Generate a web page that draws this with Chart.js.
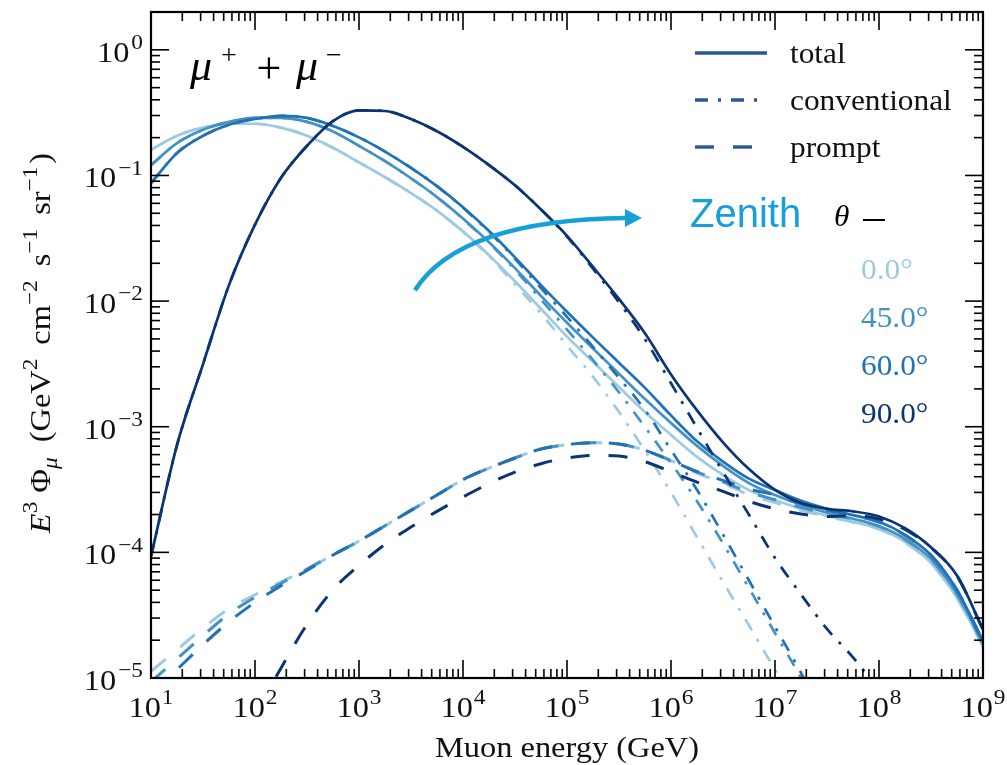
<!DOCTYPE html>
<html>
<head>
<meta charset="utf-8">
<title>Atmospheric muon flux</title>
<script src="https://cdn.jsdelivr.net/npm/chart.js@4.4.1/dist/chart.umd.min.js"></script>
<style>
html, body { margin: 0; padding: 0; background: #ffffff; }
canvas { display: block; }
</style>
</head>
<body>
<canvas id="flux" width="1007" height="765"></canvas>
<script>
// Muon energy grid (GeV), quarter-decade steps
const energies = [1e1, 1.78e1, 3.16e1, 5.62e1, 1e2, 1.78e2, 3.16e2, 5.62e2, 1e3, 1.78e3, 3.16e3, 5.62e3,
  1e4, 1.78e4, 3.16e4, 5.62e4, 1e5, 1.78e5, 3.16e5, 5.62e5, 1e6, 1.78e6, 3.16e6, 5.62e6,
  1e7, 1.78e7, 3.16e7, 5.62e7, 1e8, 1.78e8, 3.16e8, 5.62e8, 1e9];

// E^3 * flux (GeV^2 cm^-2 s^-1 sr^-1), zenith 0 deg
const total0 = [1.60e-1, 2.07e-1, 2.40e-1, 2.58e-1, 2.58e-1, 2.40e-1, 2.07e-1, 1.66e-1, 1.27e-1, 9.68e-2, 7.24e-2, 5.25e-2,
  3.59e-2, 2.32e-2, 1.44e-2, 8.69e-3, 5.21e-3, 3.29e-3, 2.07e-3, 1.31e-3, 8.61e-4, 5.76e-4, 4.13e-4, 3.13e-4,
  2.61e-4, 2.22e-4, 1.96e-4, 1.75e-4, 1.54e-4, 1.21e-4, 8.23e-5, 4.35e-5, 1.80e-5];
const conv0 = [1.60e-1, 2.07e-1, 2.40e-1, 2.58e-1, 2.58e-1, 2.40e-1, 2.07e-1, 1.66e-1, 1.27e-1, 9.68e-2, 7.24e-2, 5.25e-2,
  3.55e-2, 2.28e-2, 1.36e-2, 7.98e-3, 4.43e-3, 2.50e-3, 1.31e-3, 6.43e-4, 3.00e-4, 1.32e-4, 5.83e-5, 2.62e-5,
  1.16e-5, 4.95e-6, 1.97e-6, null, null, null, null, null, null];
const prompt0 = [1.13e-5, 1.68e-5, 2.50e-5, 3.56e-5, 4.60e-5, 5.82e-5, 7.36e-5, 9.53e-5, 1.23e-4, 1.63e-4, 2.16e-4, 2.86e-4,
  3.79e-4, 4.68e-4, 5.64e-4, 6.65e-4, 7.21e-4, 7.47e-4, 7.29e-4, 6.49e-4, 5.38e-4, 4.28e-4, 3.57e-4, 2.87e-4,
  2.49e-4, 2.16e-4, 1.93e-4, 1.74e-4, 1.53e-4, 1.20e-4, 8.20e-5, 4.33e-5, 1.79e-5];

// zenith 45 deg
const total45 = [1.21e-1, 1.81e-1, 2.31e-1, 2.67e-1, 2.87e-1, 2.87e-1, 2.67e-1, 2.24e-1, 1.72e-1, 1.30e-1, 9.50e-2, 6.73e-2,
  4.55e-2, 2.94e-2, 1.83e-2, 1.10e-2, 6.72e-3, 4.19e-3, 2.64e-3, 1.66e-3, 1.07e-3, 7.04e-4, 4.88e-4, 3.56e-4,
  2.86e-4, 2.39e-4, 2.07e-4, 1.85e-4, 1.62e-4, 1.28e-4, 8.86e-5, 4.67e-5, 1.89e-5];
const conv45 = [1.21e-1, 1.81e-1, 2.31e-1, 2.67e-1, 2.87e-1, 2.87e-1, 2.67e-1, 2.24e-1, 1.72e-1, 1.30e-1, 9.50e-2, 6.73e-2,
  4.50e-2, 2.90e-2, 1.78e-2, 1.03e-2, 5.94e-3, 3.39e-3, 1.88e-3, 9.94e-4, 5.15e-4, 2.55e-4, 1.18e-4, 5.20e-5,
  2.28e-5, 1.00e-5, 3.91e-6, null, null, null, null, null, null];
const prompt45 = [9.32e-6, 1.42e-5, 2.17e-5, 3.24e-5, 4.39e-5, 5.68e-5, 7.36e-5, 9.53e-5, 1.23e-4, 1.63e-4, 2.16e-4, 2.86e-4,
  3.79e-4, 4.68e-4, 5.64e-4, 6.65e-4, 7.21e-4, 7.47e-4, 7.29e-4, 6.49e-4, 5.38e-4, 4.38e-4, 3.64e-4, 3.01e-4,
  2.62e-4, 2.28e-4, 2.02e-4, 1.84e-4, 1.61e-4, 1.27e-4, 8.80e-5, 4.65e-5, 1.88e-5];

// zenith 60 deg
const total60 = [8.68e-2, 1.51e-1, 2.07e-1, 2.53e-1, 2.82e-1, 2.98e-1, 2.87e-1, 2.48e-1, 2.01e-1, 1.55e-1, 1.15e-1, 8.22e-2,
  5.58e-2, 3.61e-2, 2.23e-2, 1.34e-2, 8.22e-3, 5.12e-3, 3.23e-3, 2.04e-3, 1.23e-3, 7.65e-4, 5.28e-4, 3.86e-4,
  3.13e-4, 2.57e-4, 2.22e-4, 1.98e-4, 1.75e-4, 1.38e-4, 9.53e-5, 5.03e-5, 1.97e-5];
const conv60 = [8.68e-2, 1.51e-1, 2.07e-1, 2.53e-1, 2.82e-1, 2.98e-1, 2.87e-1, 2.48e-1, 2.01e-1, 1.55e-1, 1.15e-1, 8.22e-2,
  5.53e-2, 3.56e-2, 2.17e-2, 1.27e-2, 7.50e-3, 4.32e-3, 2.45e-3, 1.36e-3, 6.53e-4, 3.14e-4, 1.39e-4, 5.97e-5,
  2.56e-5, 1.10e-5, 4.41e-6, null, null, null, null, null, null];
const prompt60 = [7.55e-6, 1.17e-5, 1.84e-5, 2.80e-5, 4.00e-5, 5.42e-5, 7.18e-5, 9.53e-5, 1.23e-4, 1.63e-4, 2.16e-4, 2.86e-4,
  3.79e-4, 4.68e-4, 5.64e-4, 6.65e-4, 7.21e-4, 7.47e-4, 7.29e-4, 6.49e-4, 5.38e-4, 4.39e-4, 3.74e-4, 3.19e-4,
  2.86e-4, 2.45e-4, 2.17e-4, 1.97e-4, 1.74e-4, 1.37e-4, 9.50e-5, 5.01e-5, 1.96e-5];

// zenith 90 deg (horizontal)
const total90 = [9.27e-5, 7.17e-4, 3.14e-3, 1.34e-2, 4.06e-2, 9.59e-2, 1.72e-1, 2.71e-1, 3.30e-1, 3.26e-1, 2.81e-1, 2.25e-1,
  1.69e-1, 1.21e-1, 8.35e-2, 5.36e-2, 3.31e-2, 1.87e-2, 1.04e-2, 5.54e-3, 2.61e-3, 1.35e-3, 7.52e-4, 4.60e-4,
  3.15e-4, 2.47e-4, 2.22e-4, 2.12e-4, 1.93e-4, 1.56e-4, 1.10e-4, 6.54e-5, 2.44e-5];
const conv90 = [9.27e-5, 7.17e-4, 3.14e-3, 1.34e-2, 4.06e-2, 9.59e-2, 1.72e-1, 2.71e-1, 3.30e-1, 3.26e-1, 2.81e-1, 2.25e-1,
  1.69e-1, 1.21e-1, 8.35e-2, 5.36e-2, 3.26e-2, 1.81e-2, 9.78e-3, 4.97e-3, 2.22e-3, 9.76e-4, 4.37e-4, 1.99e-4,
  9.03e-5, 4.62e-5, 2.46e-5, 1.46e-5, 7.92e-6, 3.90e-6, null, null, null];
const prompt90 = [null, null, null, 1.53e-6, 4.98e-6, 1.20e-5, 2.67e-5, 5.04e-5, 7.88e-5, 1.16e-4, 1.59e-4, 2.12e-4,
  2.76e-4, 3.53e-4, 4.35e-4, 5.08e-4, 5.64e-4, 5.92e-4, 5.84e-4, 5.26e-4, 4.37e-4, 3.62e-4, 3.06e-4, 2.55e-4,
  2.22e-4, 2.02e-4, 1.93e-4, 1.96e-4, 1.84e-4, 1.52e-4, 1.09e-4, 6.50e-5, 2.43e-5];

const angleLabels = ['0.0\u00b0', '45.0\u00b0', '60.0\u00b0', '90.0\u00b0'];
const componentLabels = ['total', 'conventional', 'prompt'];
const xTickExponents = [1, 2, 3, 4, 5, 6, 7, 8, 9];
const yTickExponents = [-5, -4, -3, -2, -1, 0];
const minorSteps = [2, 3, 4, 5, 6, 7, 8, 9];

// styling
const angleColors = ['#9ecae1', '#4292c6', '#2171b5', '#0b3572'];
const componentDash = { total: [], conventional: [13, 10, 3, 10], prompt: [19, 19] };
const componentWidth = { total: 2.7, conventional: 2.7, prompt: 3.0 };
const SERIF = '"Liberation Serif", "Times New Roman", serif';
const SANS = '"Liberation Sans", Arial, sans-serif';
const STRETCH = 1.08;

const seriesByAngle = [
  { total: total0, conventional: conv0, prompt: prompt0 },
  { total: total45, conventional: conv45, prompt: prompt45 },
  { total: total60, conventional: conv60, prompt: prompt60 },
  { total: total90, conventional: conv90, prompt: prompt90 }
];

const datasets = [];
angleLabels.forEach((angle, i) => {
  componentLabels.forEach(kind => {
    datasets.push({
      label: angle + ' ' + kind,
      data: seriesByAngle[i][kind],
      borderColor: angleColors[i],
      borderWidth: componentWidth[kind],
      borderDash: componentDash[kind],
      fill: false,
      pointRadius: 0,
      spanGaps: false
    });
  });
});
// later entries are painted over earlier ones
datasets.forEach((d, i) => { d.order = datasets.length - i; });

// ---- text helpers (mathtext-like runs with super/subscripts) ----
function segFont(seg, size) {
  const s = size * (seg.sup || seg.sub ? 0.72 : 1) * (seg.scale || 1);
  return (seg.it ? 'italic ' : '') + s.toFixed(1) + 'px ' + SERIF;
}
function richWidth(ctx, segs, size) {
  let w = 0;
  segs.forEach(seg => { ctx.font = segFont(seg, size); w += ctx.measureText(seg.t).width * STRETCH + (seg.pad || 0); });
  return w;
}
function drawRich(ctx, segs, x, y, size, align) {
  const w = richWidth(ctx, segs, size);
  let cx = align === 'center' ? x - w / 2 : (align === 'right' ? x - w : x);
  segs.forEach(seg => {
    ctx.font = segFont(seg, size);
    const dy = seg.sup ? -0.42 * size : (seg.sub ? 0.22 * size : 0);
    const adv = ctx.measureText(seg.t).width * STRETCH;
    ctx.save();
    ctx.translate(cx, y + dy);
    ctx.scale(STRETCH, 1);
    ctx.textAlign = 'left';
    ctx.textBaseline = 'alphabetic';
    ctx.fillText(seg.t, 0, 0);
    ctx.restore();
    cx += adv + (seg.pad || 0);
  });
}
function expText(e) { return e < 0 ? '\u2212' + (-e) : String(e); }

// Frame, inward ticks, labels, legend and the zenith annotation
const decorations = {
  id: 'decorations',
  afterDraw(chart) {
    const ctx = chart.ctx;
    const a = chart.chartArea;
    const xs = chart.scales.x, ys = chart.scales.y;
    ctx.save();

    // zenith arrow, in data coordinates: start, control, head base, tip
    const arrowPath = [[3.45e3, 1.22e-2], [9.35e3, 4.42e-2], [3.69e5, 4.58e-2], [5.26e5, 4.58e-2]];
    const ap = arrowPath.map(p => [xs.getPixelForValue(p[0]), ys.getPixelForValue(p[1])]);
    ctx.strokeStyle = '#17a0d8';
    ctx.fillStyle = '#17a0d8';
    ctx.lineWidth = 4.5;
    ctx.setLineDash([]);
    ctx.beginPath();
    ctx.moveTo(ap[0][0], ap[0][1]);
    ctx.quadraticCurveTo(ap[1][0], ap[1][1], ap[2][0], ap[2][1]);
    ctx.stroke();
    ctx.beginPath();
    ctx.moveTo(ap[3][0], ap[3][1]);
    ctx.lineTo(ap[2][0] - 1, ap[2][1] - 9);
    ctx.lineTo(ap[2][0] - 1, ap[2][1] + 9);
    ctx.closePath();
    ctx.fill();

    // frame
    ctx.strokeStyle = '#000';
    ctx.lineWidth = 2.2;
    ctx.strokeRect(a.left, a.top, a.right - a.left, a.bottom - a.top);

    // ticks, pointing inwards on all four sides
    ctx.lineWidth = 1.6;
    const seg = (x1, y1, x2, y2) => { ctx.beginPath(); ctx.moveTo(x1, y1); ctx.lineTo(x2, y2); ctx.stroke(); };
    xTickExponents.forEach(e => {
      [1].concat(minorSteps).forEach(k => {
        const v = k * Math.pow(10, e);
        if (v > xs.max * 1.0001) return;
        const px = xs.getPixelForValue(v);
        const len = k === 1 ? 18 : 9;
        seg(px, a.bottom, px, a.bottom - len);
        seg(px, a.top, px, a.top + len);
      });
    });
    yTickExponents.forEach(e => {
      [1].concat(minorSteps).forEach(k => {
        const v = k * Math.pow(10, e);
        if (v > ys.max * 0.999) return;
        const py = ys.getPixelForValue(v);
        const len = k === 1 ? 18 : 9;
        seg(a.left, py, a.left + len, py);
        seg(a.right, py, a.right - len, py);
      });
    });

    // tick labels
    ctx.fillStyle = '#111';
    xTickExponents.forEach(e => {
      const px = xs.getPixelForValue(Math.pow(10, e));
      drawRich(ctx, [{ t: '10', pad: 1 }, { t: expText(e), sup: true }], px, a.bottom + 39, 30, 'center');
    });
    yTickExponents.forEach(e => {
      const py = ys.getPixelForValue(Math.pow(10, e));
      drawRich(ctx, [{ t: '10', pad: 2 }, { t: expText(e), sup: true }], a.left - 8, py + 12, 30, 'right');
    });

    // axis titles
    drawRich(ctx, [{ t: 'Muon energy (GeV)' }], (a.left + a.right) / 2, 757, 30, 'center');
    ctx.save();
    ctx.translate(50, 343);
    ctx.rotate(-Math.PI / 2);
    drawRich(ctx, [
      { t: 'E', it: true }, { t: '3', sup: true, pad: 9 }, { t: '\u03a6' }, { t: '\u03bc', it: true, sub: true, pad: 15 },
      { t: '(GeV' }, { t: '2', sup: true, pad: 14 }, { t: 'cm' }, { t: '\u22122', sup: true, pad: 14 },
      { t: 's' }, { t: '\u22121', sup: true, pad: 14 }, { t: 'sr' }, { t: '\u22121', sup: true, pad: 3 }, { t: ')' }
    ], 0, 0, 30, 'center');
    ctx.restore();

    // particle label
    ctx.fillStyle = '#000';
    ctx.textAlign = 'left';
    ctx.textBaseline = 'alphabetic';
    ctx.font = 'italic 44px ' + SERIF;
    ctx.fillText('\u03bc', 190, 80);
    ctx.fillText('\u03bc', 296, 80);
    ctx.font = '28px ' + SERIF;
    ctx.fillText('+', 221, 64);
    ctx.fillText('\u2212', 326, 64);
    ctx.font = '44px ' + SERIF;
    ctx.textAlign = 'center';
    ctx.fillText('+', 269, 83);

    // component legend
    const legendY = [53, 100, 147];
    componentLabels.forEach((kind, i) => {
      ctx.strokeStyle = '#2a5796';
      ctx.lineWidth = 3.4;
      ctx.setLineDash(componentDash[kind]);
      seg(695, legendY[i], 767, legendY[i]);
      ctx.setLineDash([]);
      ctx.fillStyle = '#111';
      drawRich(ctx, [{ t: kind }], 790, legendY[i] + 10, 29, 'left');
    });

    // zenith legend
    ctx.fillStyle = '#17a0d8';
    ctx.textAlign = 'left';
    ctx.font = '40px ' + SANS;
    ctx.fillText('Zenith', 690, 227);
    ctx.fillStyle = '#000';
    drawRich(ctx, [{ t: '\u03b8', it: true }], 834, 226, 29, 'left');
    ctx.strokeStyle = '#000';
    ctx.lineWidth = 2;
    seg(863, 220, 885, 220);
    const angleY = [279, 327, 375, 423];
    angleLabels.forEach((lab, i) => {
      ctx.fillStyle = angleColors[i];
      drawRich(ctx, [{ t: lab }], 861, angleY[i], 29, 'left');
    });

    ctx.restore();
  }
};

new Chart(document.getElementById('flux'), {
  type: 'line',
  data: { labels: energies, datasets: datasets },
  options: {
    responsive: false,
    animation: false,
    devicePixelRatio: 1,
    layout: { padding: { left: 151, right: 24, top: 12, bottom: 87 } },
    plugins: { legend: { display: false }, tooltip: { enabled: false } },
    elements: {
      point: { radius: 0 },
      line: { cubicInterpolationMode: 'monotone', borderCapStyle: 'butt' }
    },
    scales: {
      x: { type: 'logarithmic', min: 10, max: 1e9, display: false },
      y: { type: 'logarithmic', min: 1e-5, max: 2, display: false }
    }
  },
  plugins: [decorations]
});
</script>
</body>
</html>
